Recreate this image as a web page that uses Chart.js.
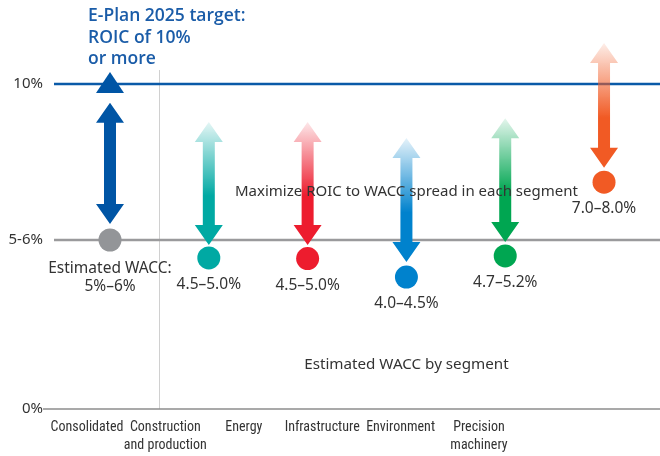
<!DOCTYPE html>
<html><head><meta charset="utf-8">
<script src="https://cdn.jsdelivr.net/npm/chart.js@4"></script>
<style>html,body{margin:0;padding:0;background:#fff;overflow:hidden}#wrap{width:660px;height:456px;position:relative}</style>
</head><body><div id="wrap"><canvas id="c"></canvas></div>
<script>
// ---- data ----
const categories = [['Consolidated'], ['Construction', 'and production'], ['Energy'], ['Infrastructure'], ['Environment'], ['Precision', 'machinery']];
const waccDot = [5.2, 4.65, 4.63, 4.06, 4.71, 6.98];
const arrowTop = [9.42, 8.83, 8.83, 8.34, 8.95, 11.26];
const arrowBottom = [5.69, 5.05, 5.05, 4.52, 5.14, 7.42];
const arrowFade = [false, true, true, true, true, true];
const waccLabels = [['Estimated WACC:', '5%–6%'], ['4.5–5.0%'], ['4.5–5.0%'], ['4.0–4.5%'], ['4.7–5.2%'], ['7.0–8.0%']];
const arrowColors = ['#0055a5', '#00a9a3', '#ed1c2e', '#0082cd', '#00a651', '#f15a24'];
const dotColors = ['#939598', '#00a9a3', '#ed1c2e', '#0082cd', '#00a651', '#f15a24'];
const yTickValues = [0, 5.2, 10];
const yTickLabels = ['0%', '5-6%', '10%'];
const targetValue = 10;
const targetTitle = ['E-Plan 2025 target:', 'ROIC of 10%', 'or more'];
const spreadText = 'Maximize ROIC to WACC spread in each segment';
const waccText = 'Estimated WACC by segment';

function rgba(hex, a) {
  const n = parseInt(hex.slice(1), 16);
  return `rgba(${(n >> 16) & 255},${(n >> 8) & 255},${n & 255},${a})`;
}

const overlay = {
  id: 'overlay',
  beforeDatasetsDraw(chart) {
    const { ctx, chartArea: a, scales: { x, y } } = chart;
    ctx.save();
    const sx = Math.round(x.getPixelForValue(0.5)) + 0.5;
    ctx.strokeStyle = '#d0d0d0'; ctx.lineWidth = 1;
    ctx.beginPath(); ctx.moveTo(sx, y.getPixelForValue(10.43)); ctx.lineTo(sx, y.getPixelForValue(0)); ctx.stroke();
    const lines = [
      { v: 0, c: '#8c8c8c', w: 1.5, x0: a.left - 1 },
      { v: 5.2, c: '#9a9a9c', w: 2.5, x0: a.left + 10 },
      { v: targetValue, c: '#0a5aa8', w: 2.5, x0: a.left + 10 }
    ];
    lines.forEach(l => {
      const py = y.getPixelForValue(l.v);
      ctx.strokeStyle = l.c; ctx.lineWidth = l.w;
      ctx.beginPath(); ctx.moveTo(l.x0, py); ctx.lineTo(chart.width, py); ctx.stroke();
    });
    const headH = 20, headW = 28, shaftW = 12;
    categories.forEach((c, i) => {
      const cx = x.getPixelForValue(i);
      const yt = y.getPixelForValue(arrowTop[i]);
      const yb = y.getPixelForValue(arrowBottom[i]);
      let fill = arrowColors[i];
      if (arrowFade[i]) {
        const g = ctx.createLinearGradient(0, yb, 0, yt);
        g.addColorStop(0, arrowColors[i]);
        g.addColorStop(0.4, arrowColors[i]);
        g.addColorStop(1, rgba(arrowColors[i], 0.1));
        fill = g;
      }
      ctx.fillStyle = fill;
      ctx.beginPath();
      ctx.moveTo(cx, yt);
      ctx.lineTo(cx + headW / 2, yt + headH);
      ctx.lineTo(cx + shaftW / 2, yt + headH);
      ctx.lineTo(cx + shaftW / 2, yb - headH);
      ctx.lineTo(cx + headW / 2, yb - headH);
      ctx.lineTo(cx, yb);
      ctx.lineTo(cx - headW / 2, yb - headH);
      ctx.lineTo(cx - shaftW / 2, yb - headH);
      ctx.lineTo(cx - shaftW / 2, yt + headH);
      ctx.lineTo(cx - headW / 2, yt + headH);
      ctx.closePath();
      ctx.fill();
    });
    const tx = x.getPixelForValue(0), ty = y.getPixelForValue(targetValue);
    ctx.fillStyle = arrowColors[0];
    ctx.beginPath();
    ctx.moveTo(tx, ty - 12); ctx.lineTo(tx + 14, ty + 9); ctx.lineTo(tx - 14, ty + 9); ctx.closePath();
    ctx.fill();
    ctx.restore();
  },
  afterDatasetsDraw(chart) {
    const { ctx, scales: { x, y } } = chart;
    ctx.save();
    ctx.textBaseline = 'alphabetic';
    ctx.fillStyle = '#1a5ca8';
    ctx.font = '600 17.5px "Open Sans", "Noto Sans", sans-serif';
    ctx.textAlign = 'left';
    const ty = y.getPixelForValue(targetValue);
    targetTitle.forEach((t, k) => ctx.fillText(t, x.getPixelForValue(0) - 22, ty - 63 + k * 21.5));
    ctx.fillStyle = '#333333';
    ctx.font = '15.5px "Noto Sans", sans-serif';
    ctx.textAlign = 'center';
    waccLabels.forEach((lab, i) => {
      const px = x.getPixelForValue(i), py = y.getPixelForValue(waccDot[i]);
      const off = lab.length > 1 ? 33 : 31;
      lab.forEach((t, k) => ctx.fillText(t, px, py + off + k * 18));
    });
    ctx.font = '15px "Noto Sans", sans-serif';
    ctx.fillText(spreadText, x.getPixelForValue(3), y.getPixelForValue(6.55));
    ctx.font = '15.2px "Noto Sans", sans-serif';
    ctx.fillText(waccText, x.getPixelForValue(3), y.getPixelForValue(1.23));
    ctx.restore();
  }
};

new Chart(document.getElementById('c'), {
  type: 'scatter',
  data: {
    datasets: [{
      data: waccDot.map((v, i) => ({ x: i, y: v })),
      backgroundColor: dotColors,
      borderWidth: 0,
      pointRadius: 11.5,
      pointHoverRadius: 11.5,
      xAxisID: 'x', yAxisID: 'y'
    }]
  },
  options: {
    responsive: true, maintainAspectRatio: false, animation: false,
    layout: { padding: { top: 10, left: 0, right: 0, bottom: 0 } },
    plugins: { legend: { display: false }, tooltip: { enabled: false } },
    scales: {
      x: { type: 'linear', min: -0.668, max: 5.450, display: false },
      x2: {
        type: 'linear', position: 'bottom', min: -0.548, max: 7.162,
        afterBuildTicks: s => { s.ticks = categories.map((c, i) => ({ value: i })); },
        afterFit: s => { s.height = 47; },
        grid: { display: false, drawTicks: false }, border: { display: false },
        ticks: {
          autoSkip: false, maxRotation: 0, padding: 10, color: '#333333',
          font: { family: '"Roboto Condensed", "DejaVu Sans Condensed", sans-serif', size: 14, lineHeight: 1.25 },
          callback: (v, i) => categories[i]
        }
      },
      y: {
        type: 'linear', min: 0, max: 12.231,
        afterBuildTicks: s => { s.ticks = yTickValues.map(v => ({ value: v })); },
        afterFit: s => { s.width = 44; },
        grid: { display: false, drawTicks: false }, border: { display: false },
        ticks: {
          padding: 1, color: '#333333',
          font: { family: '"Noto Sans", sans-serif', size: 15 },
          callback: (v, i) => yTickLabels[i]
        }
      }
    }
  },
  plugins: [overlay]
});
</script>
</body></html>
